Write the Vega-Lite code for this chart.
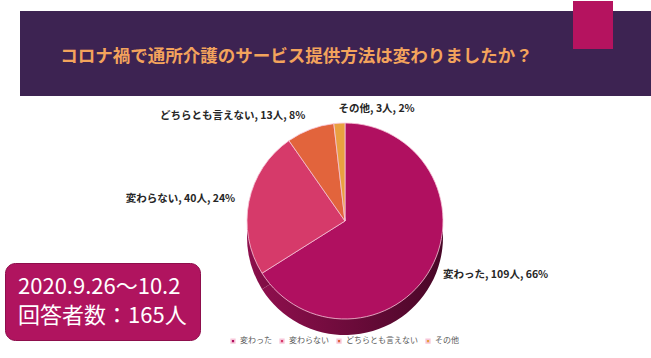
{
  "$schema": "https://vega.github.io/schema/vega-lite/v6.json",
  "background": "white",
  "padding": 0,
  "spacing": 0,
  "config": {
    "font": "Noto Sans CJK JP",
    "view": {"stroke": null},
    "concat": {"spacing": 0}
  },
  "vconcat": [
    {
      "spacing": 0,
      "hconcat": [
        {"width": 20, "height": 95, "data": {"values": [{}]}, "mark": {"type": "text", "text": ""}},
        {
          "spacing": 0,
          "vconcat": [
            {"width": 553, "height": 10, "data": {"values": [{}]}, "mark": {"type": "text", "text": ""}},
            {
              "width": 553,
              "height": 85,
              "view": {"fill": "#3D2352", "stroke": null},
              "data": {"values": [{"t": "コロナ禍で通所介護のサービス提供方法は変わりましたか？"}]},
              "mark": {"type": "text", "fontSize": 17.5, "fontWeight": "bold", "color": "#F3A35C", "dy": 3, "baseline": "middle", "align": "center"},
              "encoding": {"text": {"field": "t"}}
            }
          ]
        },
        {
          "spacing": 0,
          "vconcat": [
            {"width": 40, "height": 48, "view": {"fill": "#B5135F", "stroke": null}, "data": {"values": [{}]}, "mark": {"type": "text", "text": ""}},
            {"width": 40, "height": 47, "view": {"fill": "#3D2352", "stroke": null}, "data": {"values": [{}]}, "mark": {"type": "text", "text": ""}}
          ]
        },
        {
          "spacing": 0,
          "vconcat": [
            {"width": 38, "height": 10, "data": {"values": [{}]}, "mark": {"type": "text", "text": ""}},
            {"width": 38, "height": 85, "view": {"fill": "#3D2352", "stroke": null}, "data": {"values": [{}]}, "mark": {"type": "text", "text": ""}}
          ]
        }
      ]
    },
    {
      "spacing": 0,
      "hconcat": [
        {"width": 39, "height": 250, "data": {"values": [{}]}, "mark": {"type": "text", "text": ""}},
        {
          "width": 612,
          "height": 250,
          "data": {
            "values": [
              {"cat": "変わった", "n": 109, "pct": 66, "idx": 1},
              {"cat": "変わらない", "n": 40, "pct": 24, "idx": 2},
              {"cat": "どちらとも言えない", "n": 13, "pct": 8, "idx": 3},
              {"cat": "その他", "n": 3, "pct": 2, "idx": 4}
            ]
          },
          "transform": [
            {"calculate": "datum.cat + ', ' + datum.n + '人, ' + datum.pct + '%'", "as": "label"}
          ],
          "layer": [
            {
              "mark": {
                "type": "arc",
                "outerRadius": 98,
                "yOffset": 16,
                "strokeWidth": 0,
                "fill": {"gradient": "linear", "x1": 0, "y1": 0, "x2": 1, "y2": 0, "stops": [{"offset": 0, "color": "#8E0F4D"}, {"offset": 1, "color": "#480727"}]}
              },
              "encoding": {
                "theta": {"field": "n", "type": "quantitative", "stack": true},
                "order": {"field": "idx", "type": "quantitative"}
              }
            },
            {
              "mark": {"type": "arc", "outerRadius": 98, "stroke": "#F7C6D9", "strokeWidth": 0.8},
              "encoding": {
                "theta": {"field": "n", "type": "quantitative", "stack": true},
                "order": {"field": "idx", "type": "quantitative"},
                "color": {
                  "field": "cat",
                  "type": "nominal",
                  "scale": {"domain": ["変わった", "変わらない", "どちらとも言えない", "その他"], "range": ["#B01060", "#D63A6A", "#E2643C", "#E9A040"]},
                  "legend": {"title": null, "orient": "none", "legendX": 229, "legendY": 336, "direction": "horizontal", "symbolType": "square", "symbolSize": 14, "labelFontSize": 8, "labelColor": "#595959", "labelOffset": 3, "columnPadding": 5}
                }
              }
            },
            {
              "mark": {"type": "text", "radius": 112, "align": "right", "baseline": "middle", "fontSize": 10.5, "fontWeight": "bold", "color": "#262626"},
              "encoding": {
                "theta": {"field": "n", "type": "quantitative", "stack": true},
                "order": {"field": "idx", "type": "quantitative"},
                "text": {"condition": {"test": "datum.cat === '変わらない' || datum.cat === 'どちらとも言えない'", "field": "label"}, "value": ""}
              }
            },
            {
              "mark": {"type": "text", "radius": 112, "align": "left", "baseline": "middle", "fontSize": 10.5, "fontWeight": "bold", "color": "#262626"},
              "encoding": {
                "theta": {"field": "n", "type": "quantitative", "stack": true},
                "order": {"field": "idx", "type": "quantitative"},
                "text": {"condition": {"test": "datum.cat === '変わった' || datum.cat === 'その他'", "field": "label"}, "value": ""}
              }
            },
            {
              "data": {"values": [{"info": "2020.9.26〜10.2"}, {"info": "回答者数：165人"}]},
              "mark": {"type": "point", "opacity": 0},
              "encoding": {
                "shape": {
                  "field": "info",
                  "type": "nominal",
                  "scale": {"domain": ["2020.9.26〜10.2", "回答者数：165人"]},
                  "legend": {
                    "title": null,
                    "orient": "none",
                    "legendX": 5,
                    "legendY": 262,
                    "direction": "vertical",
                    "fillColor": "#B0145F",
                    "strokeColor": "#8E0E4C",
                    "cornerRadius": 10,
                    "padding": 13,
                    "symbolSize": 0,
                    "symbolOpacity": 0,
                    "symbolStrokeWidth": 0,
                    "labelOffset": -22,
                    "labelFontSize": 22,
                    "labelColor": "white",
                    "labelLimit": 300,
                    "rowPadding": 7
                  }
                }
              }
            }
          ]
        }
      ]
    }
  ]
}
